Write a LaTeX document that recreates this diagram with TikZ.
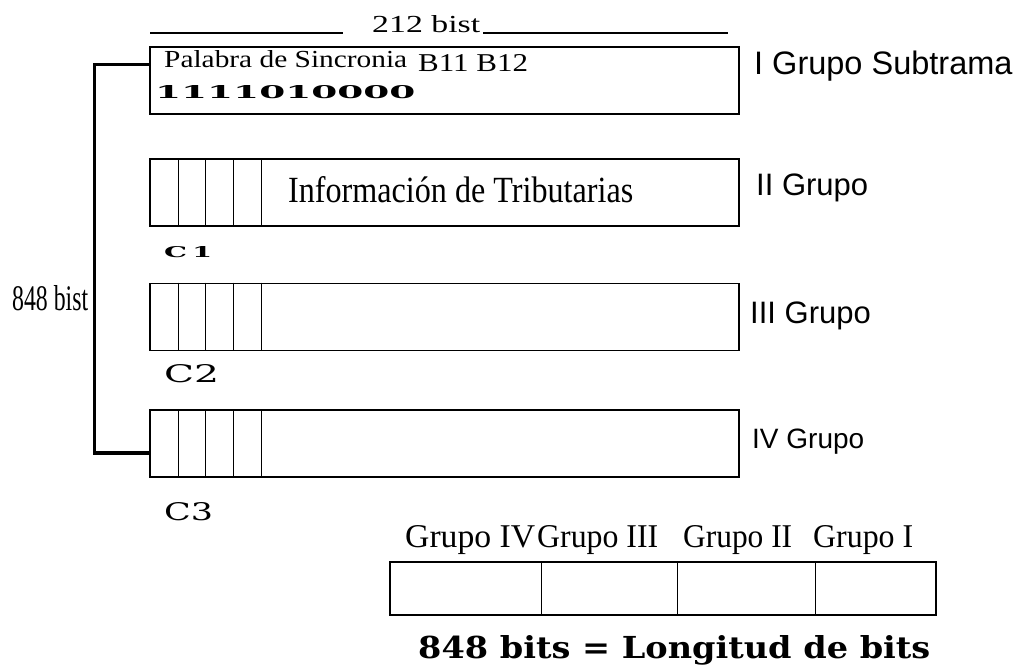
\documentclass[tikz,border=0pt]{standalone}
\usepackage{fontspec}
\usepackage{graphicx}
\setmainfont{Liberation Serif}
\newfontfamily\sansf{Liberation Sans}
\newfontfamily\dvs{DejaVu Serif}
\newcommand{\fitt}[3]{\resizebox{#1pt}{#2pt}{#3}}
\begin{document}
\begin{tikzpicture}[x=1pt,y=-1pt,
  frame/.style={draw,line width=1.6pt,rectangle,inner sep=0pt,minimum height=67pt},
  div/.style={line width=1.4pt},
  conn/.style={line width=3.2pt},
  dimline/.style={line width=1.5pt},
  txt/.style={inner sep=0pt,anchor=base west},
  glabel/.style={inner sep=0pt,anchor=base west,font=\sansf\fontsize{31}{34}\selectfont}]
\useasboundingbox (0,0) rectangle (1021,666);
\fill[white] (0,0) rectangle (1021,666);

% top dimension
\coordinate (dl1) at (150,33);
\coordinate (dl2) at (343,33);
\coordinate (dl3) at (483,33);
\coordinate (dl4) at (728,33);
\draw[dimline] (dl1) -- (dl2);
\draw[dimline] (dl3) -- (dl4);
\node[txt] (t212) at (372,33) {\fitt{108}{17}{212 bist}};

% group boxes
\node[frame,minimum width=589pt] (b1) at (444.5,80.5) {};
\node[frame,minimum width=589pt] (b2) at (444.5,192.5) {};
\node[frame,minimum width=589pt] (b3) at (444.5,317) {};
\node[frame,minimum width=589pt] (b4) at (444.5,443.5) {};

\foreach \b in {b2,b3,b4}{
  \foreach \dx in {29,56,84,112}{
    \draw[div] ([xshift=\dx pt]\b.north west) -- ([xshift=\dx pt]\b.south west);
  }
}

% texts in box I
\node[txt] (pal) at (164,68) {\fitt{243}{17}{Palabra de Sincronia}};
\node[txt] (b1112) at (418,72) {\fitt{110}{17}{B11 B12}};
\node[txt] (bits) at (155,99) {\fitt{260}{13}{\dvs\bfseries 1111010000}};

\node[txt] (info) at (288,203) {\fitt{345}{26}{Información de Tributarias}};

% side labels
\node[glabel,font=\sansf\fontsize{32.5}{35}\selectfont] (g1) at (754,75) {I Grupo Subtrama};
\node[glabel] (g2) at (756,196) {II Grupo};
\node[glabel] (g3) at (750,323) {III Grupo};
\node[glabel,font=\sansf\fontsize{28}{31}\selectfont] (g4) at (752,448) {IV Grupo};

% C labels
\node[txt] (c1) at (164,258) {\fitt{48}{11}{\dvs\bfseries C\,1}};
\node[txt] (c2) at (164,382) {\fitt{55}{18}{\dvs C2}};
\node[txt] (c3) at (164,520) {\fitt{49}{18}{\dvs C3}};

% connector 848 bist
\coordinate (a1) at ([yshift=16pt]b1.west);
\coordinate (a4) at ([yshift=-9.5pt]b4.west);
\draw[conn] (a1) -- ++(-55,0) |- (a4);
\node[txt] (l848) at (12,310) {\fitt{76}{25}{848 bist}};

% bottom box
\node[draw,line width=1.6pt,rectangle,inner sep=0pt,minimum width=546pt,minimum height=53pt] (bb) at (663,588.5) {};
\foreach \dx in {152,288,426}{
  \draw[div] ([xshift=\dx pt]bb.north west) -- ([xshift=\dx pt]bb.south west);
}
\node[txt] (q4) at (405,547) {\fitt{130}{22}{Grupo IV}};
\node[txt] (q3) at (537,547) {\fitt{121}{22}{Grupo III}};
\node[txt] (q2) at (683,547) {\fitt{109}{22}{Grupo II}};
\node[txt] (q1) at (813,547) {\fitt{100}{22}{Grupo I}};
\node[txt] (len) at (418,658) {\fitt{512}{23}{\dvs\bfseries 848 bits = Longitud de bits}};
\end{tikzpicture}
\end{document}
